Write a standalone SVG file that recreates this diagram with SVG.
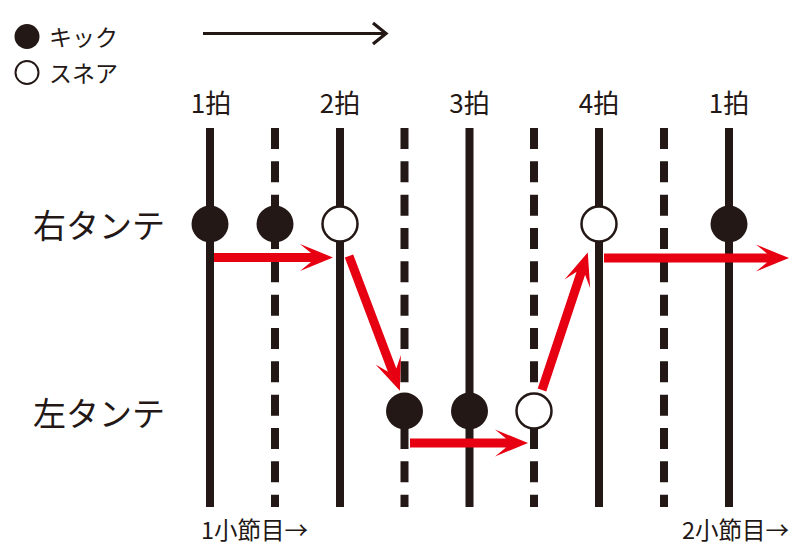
<svg xmlns="http://www.w3.org/2000/svg" width="809" height="555" viewBox="0 0 809 555">
<style>
text{font-family:"Noto Sans CJK JP","Noto Sans",sans-serif;fill:#231815}
.beat{font-size:26px;text-anchor:middle}
.row{font-size:33px}
.leg{font-size:23px}
.bar{font-size:23.5px}
.solid{stroke:#231815;stroke-width:8;fill:none}
.dash{stroke:#231815;stroke-width:8;fill:none;stroke-dasharray:21 12.33}
.kick{fill:#231815}
.snare{fill:#fff;stroke:#231815;stroke-width:2.5}
.red{fill:#e60012}
</style>
<rect width="809" height="555" fill="#fff"/>
<g id="legend">
<circle cx="27" cy="36.5" r="12.5" class="kick"/>
<text class="leg" x="49" y="46">キック</text>
<circle cx="27" cy="72.5" r="11.5" fill="#fff" stroke="#231815" stroke-width="2"/>
<text class="leg" x="49" y="82">スネア</text>
</g>
<g id="time-arrow">
<line x1="203" y1="33.5" x2="386" y2="33.5" stroke="#231815" stroke-width="3.2"/>
<polyline points="373,23 386,33.5 373,44" fill="none" stroke="#231815" stroke-width="3.2"/>
</g>
<g id="beat-labels">
<text class="beat" x="211" y="113">1拍</text>
<text class="beat" x="340" y="113">2拍</text>
<text class="beat" x="469.5" y="113">3拍</text>
<text class="beat" x="599" y="113">4拍</text>
<text class="beat" x="729" y="113">1拍</text>
</g>
<g id="row-labels">
<text class="row" x="33" y="237.5">右タンテ</text>
<text class="row" x="33" y="426">左タンテ</text>
</g>
<g id="grid">
<line class="solid" x1="210" y1="128" x2="210" y2="507"/>
<line class="dash" x1="275" y1="128" x2="275" y2="507"/>
<line class="solid" x1="340" y1="128" x2="340" y2="507"/>
<line class="dash" x1="404.5" y1="128" x2="404.5" y2="507"/>
<line class="solid" x1="469.5" y1="128" x2="469.5" y2="507"/>
<line class="dash" x1="534" y1="128" x2="534" y2="507"/>
<line class="solid" x1="599" y1="128" x2="599" y2="507"/>
<line class="dash" x1="664" y1="128" x2="664" y2="507"/>
<line class="solid" x1="729" y1="128" x2="729" y2="507"/>
</g>
<g id="notes">
<circle id="n1" cx="210" cy="224" r="18.5" class="kick"/>
<circle id="n2" cx="275" cy="224" r="18.5" class="kick"/>
<circle id="n3" cx="340" cy="224" r="17.5" class="snare"/>
<circle id="n4" cx="404.5" cy="411" r="18.5" class="kick"/>
<circle id="n5" cx="469.5" cy="411" r="18.5" class="kick"/>
<circle id="n6" cx="534" cy="411" r="17.5" class="snare"/>
<circle id="n7" cx="599" cy="224" r="17.5" class="snare"/>
<circle id="n8" cx="729" cy="224" r="18.5" class="kick"/>
</g>
<g id="connectors" class="red">
<polygon transform="translate(214,257.5)" points="0,-4.5 97,-4.5 86,-13.5 119,0 86,13.5 97,4.5 0,4.5"/>
<polygon transform="translate(349,256) rotate(69.3)" points="0,-4.5 122,-4.5 111,-13.5 144,0 111,13.5 122,4.5 0,4.5"/>
<polygon transform="translate(410,443)" points="0,-4.5 96,-4.5 85,-13.5 118,0 85,13.5 96,4.5 0,4.5"/>
<polygon transform="translate(542,390) rotate(-71.6)" points="0,-4.5 123,-4.5 112,-13.5 145,0 112,13.5 123,4.5 0,4.5"/>
<polygon transform="translate(604,258)" points="0,-4.5 163,-4.5 152,-13.5 185,0 152,13.5 163,4.5 0,4.5"/>
</g>
<g id="bar-labels">
<text class="bar" x="201" y="539">1小節目→</text>
<text class="bar" x="682" y="539">2小節目→</text>
</g>
</svg>
